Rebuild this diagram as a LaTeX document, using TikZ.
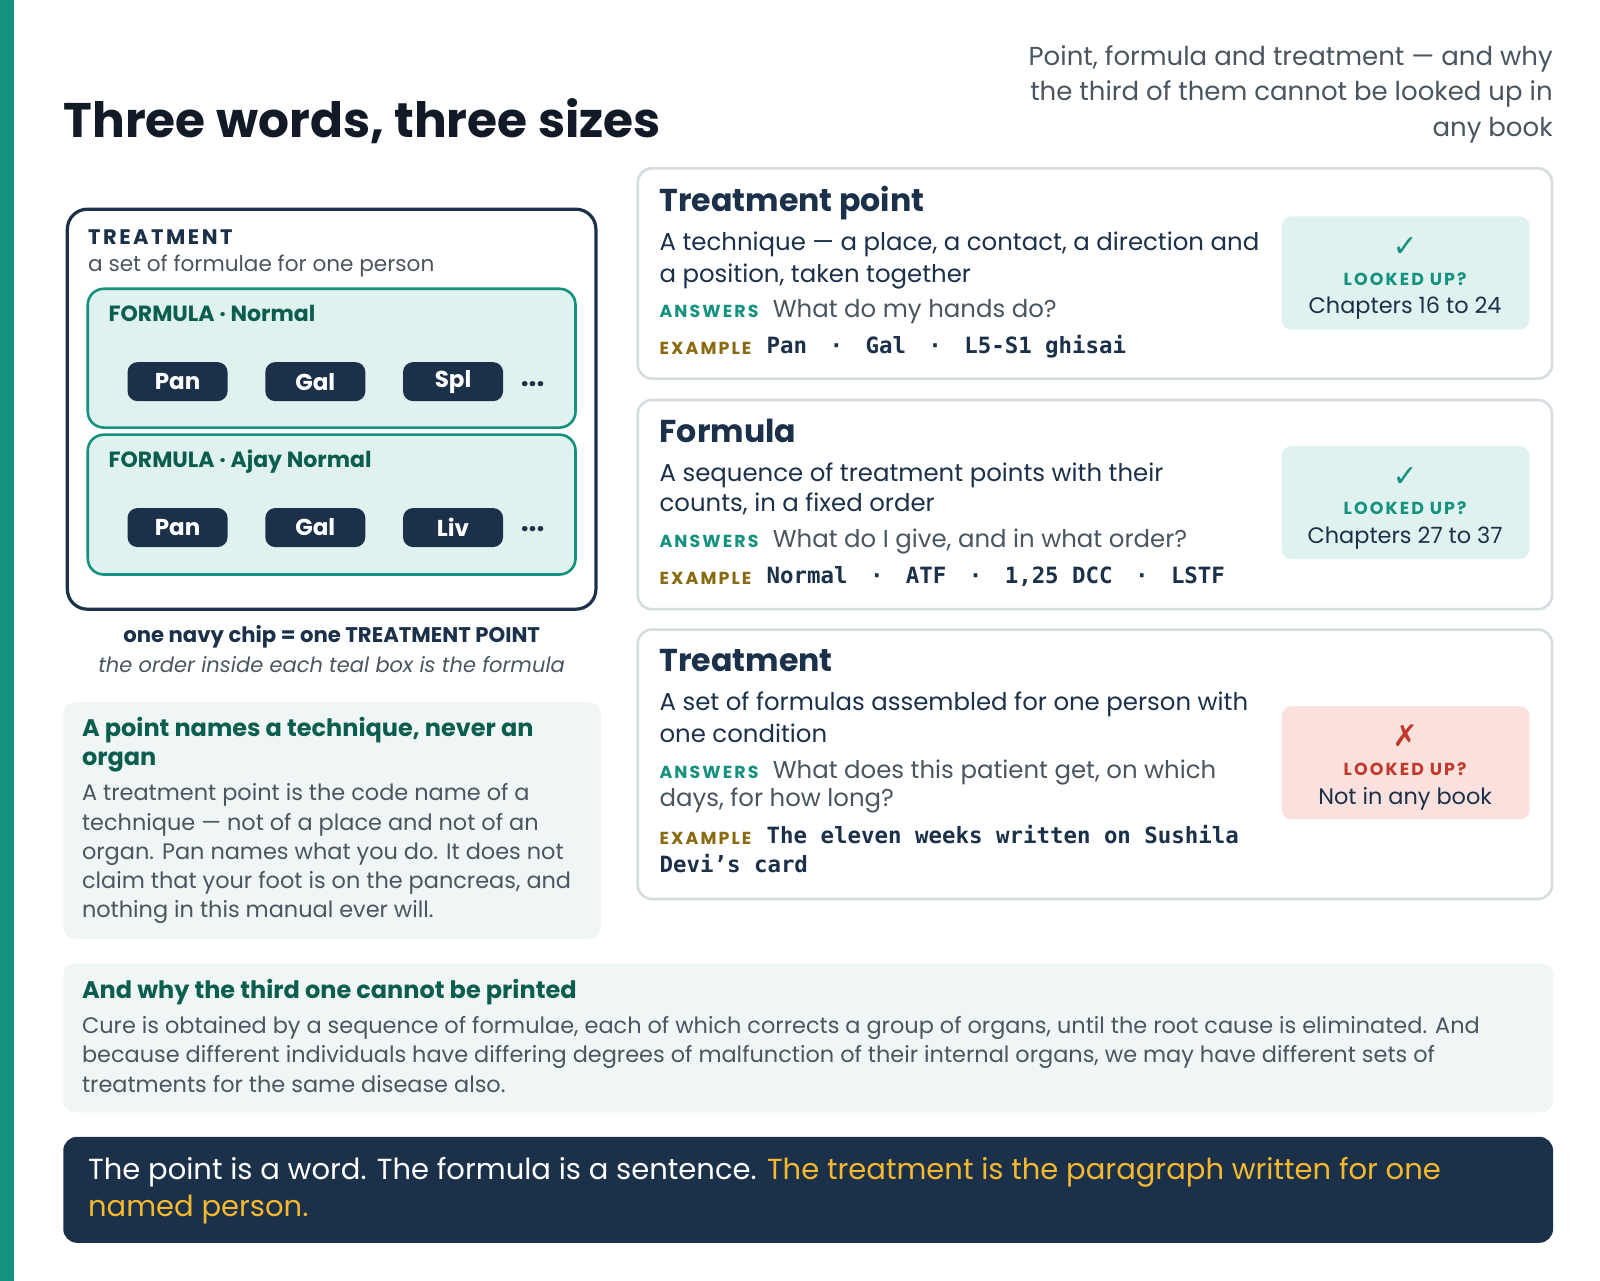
\documentclass[tikz,border=0pt]{standalone}
\usepackage{fontspec}
\setmainfont{Poppins}
\newfontfamily\mono{DejaVu Sans Mono}
\newfontfamily\sym{DejaVu Sans}
\definecolor{navy}{HTML}{1B3049}
\definecolor{ink}{HTML}{111A26}
\definecolor{teal}{HTML}{14917F}
\definecolor{tealdk}{HTML}{0B5E4E}
\definecolor{tealbg}{HTML}{E0F2EF}
\definecolor{notebg}{HTML}{F0F6F5}
\definecolor{gray}{HTML}{4A5560}
\definecolor{cardln}{HTML}{D5DDE0}
\definecolor{gold}{HTML}{8A6A10}
\definecolor{amber}{HTML}{F5B82E}
\definecolor{redx}{HTML}{C0392B}
\definecolor{redbg}{HTML}{FBE1DD}
\begin{document}
\begin{tikzpicture}[x=0.51pt,y=-0.51pt,
 t/.style={anchor=mid west,inner sep=0pt,yshift=-1.6pt,font=\fontsize{12.2}{14}\selectfont,text=navy},
 body/.style={t,text=gray,font=\fontsize{11.2}{13}\selectfont},
 ctitle/.style={t,font=\fontsize{15.8}{18}\selectfont\bfseries},
 ans/.style={t,text=teal,font=\fontsize{8.7}{10}\selectfont\bfseries\addfontfeatures{LetterSpace=12}},
 exl/.style={ans,text=gold},
 ex/.style={t,font=\fontsize{11.2}{13}\mono\bfseries},
 chip/.style={fill=navy,rounded corners=5pt,minimum width=50pt,minimum height=19.5pt,text=white,font=\fontsize{11.5}{13}\selectfont\bfseries,inner sep=0pt},
 fbox/.style={fill=tealbg,draw=teal,line width=1.3pt,rounded corners=8pt},
 card/.style={draw=cardln,line width=1.3pt,rounded corners=7pt,fill=white},
 badge/.style={rounded corners=5pt},
 bc/.style={anchor=center,inner sep=0pt,yshift=-1.2pt,text=navy,font=\fontsize{11.2}{13}\selectfont},
 note/.style={fill=notebg,rounded corners=6pt}]
\useasboundingbox (0,0) rectangle (1568,1255);
\fill[white] (0,0) rectangle (1568,1255);
\fill[teal] (0,0) rectangle (14,1255);
% title
\node[t,yshift=0pt,anchor=base west,font=\fontsize{24.3}{28}\selectfont\bfseries,text=ink] (title) at (62,132) {Three words, three sizes};
\node[t,anchor=mid east,text=gray,font=\fontsize{13}{15}\selectfont] (s1) at (1522,56) {Point, formula and treatment — and why};
\node[t,anchor=mid east,text=gray,font=\fontsize{13}{15}\selectfont] (s2) at (1522,90) {the third of them cannot be looked up in};
\node[t,anchor=mid east,text=gray,font=\fontsize{13}{15}\selectfont] (s3) at (1522,125) {any book};
% left diagram
\draw[navy,line width=1.6pt,rounded corners=10pt] (66,205) rectangle (584,597);
\node[t,font=\fontsize{10.5}{12}\selectfont\bfseries\addfontfeatures{LetterSpace=12}] (tr) at (86,231) {TREATMENT};
\node[body,font=\fontsize{10.8}{12}\selectfont] (trs) at (86,258) {a set of formulae for one person};
\draw[fbox] (86,283) rectangle (564,419);
\draw[fbox] (86,426) rectangle (564,563);
\node[t,text=tealdk,font=\fontsize{11}{13}\selectfont\bfseries] (f1) at (106,307) {FORMULA · Normal};
\node[t,text=tealdk,font=\fontsize{11}{13}\selectfont\bfseries] (f2) at (106,450) {FORMULA · Ajay Normal};
\node[chip] (c11) at (174,374) {Pan};
\node[chip] (c12) at (309,374) {Gal};
\node[chip] (c13) at (444,374) {Spl};
\node[anchor=center,inner sep=0pt,text=navy,font=\fontsize{14}{16}\selectfont\bfseries] (d1) at (522,376) {...};
\node[chip] (c21) at (174,517) {Pan};
\node[chip] (c22) at (309,517) {Gal};
\node[chip] (c23) at (444,517) {Liv};
\node[anchor=center,inner sep=0pt,text=navy,font=\fontsize{14}{16}\selectfont\bfseries] (d2) at (522,519) {...};
\node[t,anchor=center,font=\fontsize{10.6}{12}\selectfont\bfseries] (cap1) at (325,621) {one navy chip = one TREATMENT POINT};
\node[body,anchor=center,font=\fontsize{10.5}{12}\selectfont\itshape] (cap2) at (325,648) {the order inside each teal box is the formula};
% note
\fill[note] (62,688) rectangle (589,920);
\node[t,text=tealdk,font=\fontsize{12}{14}\selectfont\bfseries] (n1) at (80,713) {A point names a technique, never an};
\node[t,text=tealdk,font=\fontsize{12}{14}\selectfont\bfseries] (n2) at (80,742) {organ};
\node[body] (b1) at (80,776) {A treatment point is the code name of a};
\node[body] (b2) at (80,805) {technique — not of a place and not of an};
\node[body] (b3) at (80,834) {organ. Pan names what you do. It does not};
\node[body] (b4) at (80,862) {claim that your foot is on the pancreas, and};
\node[body] (b5) at (80,891) {nothing in this manual ever will.};
% card 1
\draw[card] (625,165) rectangle (1521,371);
\node[ctitle] (k1) at (646,199) {Treatment point};
\node[t] (k1a) at (646,237) {A technique — a place, a contact, a direction and};
\node[t] (k1b) at (646,268) {a position, taken together};
\node[ans] (k1c) at (646,303) {ANSWERS};
\node[t,text=gray] (k1d) at (757,303) {What do my hands do?};
\node[exl] (k1e) at (646,339) {EXAMPLE};
\node[ex] (k1f) at (751,338) {Pan\quad·\quad Gal\quad·\quad L5-S1 ghisai};
\fill[badge,tealbg] (1256,212) rectangle (1499,323);
\node[bc,text=teal,font=\fontsize{15}{17}\sym\bfseries] (k1g) at (1377,240) {✓};
\node[bc,text=teal,font=\fontsize{8.7}{10}\selectfont\bfseries\addfontfeatures{LetterSpace=12}] (k1h) at (1377,271) {LOOKED UP?};
\node[bc] (k1i) at (1377,300) {Chapters 16 to 24};
% card 2
\draw[card] (625,392) rectangle (1521,597);
\node[ctitle] (k2) at (646,425) {Formula};
\node[t] (k2a) at (646,463) {A sequence of treatment points with their};
\node[t] (k2b) at (646,493) {counts, in a fixed order};
\node[ans] (k2c) at (646,528) {ANSWERS};
\node[t,text=gray] (k2d) at (757,528) {What do I give, and in what order?};
\node[exl] (k2e) at (646,564) {EXAMPLE};
\node[ex] (k2f) at (751,563) {Normal\quad·\quad ATF\quad·\quad 1,25 DCC\quad·\quad LSTF};
\fill[badge,tealbg] (1256,437) rectangle (1499,548);
\node[bc,text=teal,font=\fontsize{15}{17}\sym\bfseries] (k2g) at (1377,465) {✓};
\node[bc,text=teal,font=\fontsize{8.7}{10}\selectfont\bfseries\addfontfeatures{LetterSpace=12}] (k2h) at (1377,496) {LOOKED UP?};
\node[bc] (k2i) at (1377,525) {Chapters 27 to 37};
% card 3
\draw[card] (625,617) rectangle (1521,881);
\node[ctitle] (k3) at (646,650) {Treatment};
\node[t] (k3a) at (646,688) {A set of formulas assembled for one person with};
\node[t] (k3b) at (646,719) {one condition};
\node[ans] (k3c) at (646,754) {ANSWERS};
\node[t,text=gray] (k3d) at (757,754) {What does this patient get, on which};
\node[t,text=gray] (k3d2) at (646,782) {days, for how long?};
\node[exl] (k3e) at (646,819) {EXAMPLE};
\node[ex] (k3f) at (751,818) {The eleven weeks written on Sushila};
\node[ex] (k3f2) at (646,847) {Devi’s card};
\fill[badge,redbg] (1256,692) rectangle (1499,803);
\node[bc,text=redx,font=\fontsize{15}{17}\sym\bfseries] (k3g) at (1377,719) {✗};
\node[bc,text=redx,font=\fontsize{8.7}{10}\selectfont\bfseries\addfontfeatures{LetterSpace=12}] (k3h) at (1377,751) {LOOKED UP?};
\node[bc] (k3i) at (1377,781) {Not in any book};
% bottom note
\fill[note] (62,944) rectangle (1522,1090);
\node[t,text=tealdk,font=\fontsize{12}{14}\selectfont\bfseries] (m1) at (80,970) {And why the third one cannot be printed};
\node[body] (m2) at (80,1004) {Cure is obtained by a sequence of formulae, each of which corrects a group of organs, until the root cause is eliminated. And};
\node[body] (m3) at (80,1033) {because different individuals have differing degrees of malfunction of their internal organs, we may have different sets of};
\node[body] (m4) at (80,1062) {treatments for the same disease also.};
% banner
\fill[navy,rounded corners=7pt] (62,1114) rectangle (1522,1218);
\node[t,text=white,font=\fontsize{14.5}{17}\selectfont] (z1) at (86,1147) {The point is a word. The formula is a sentence. \textcolor{amber}{The treatment is the paragraph written for one}};
\node[t,text=amber,font=\fontsize{14.5}{17}\selectfont] (z2) at (86,1184) {named person.};
\end{tikzpicture}
\end{document}
